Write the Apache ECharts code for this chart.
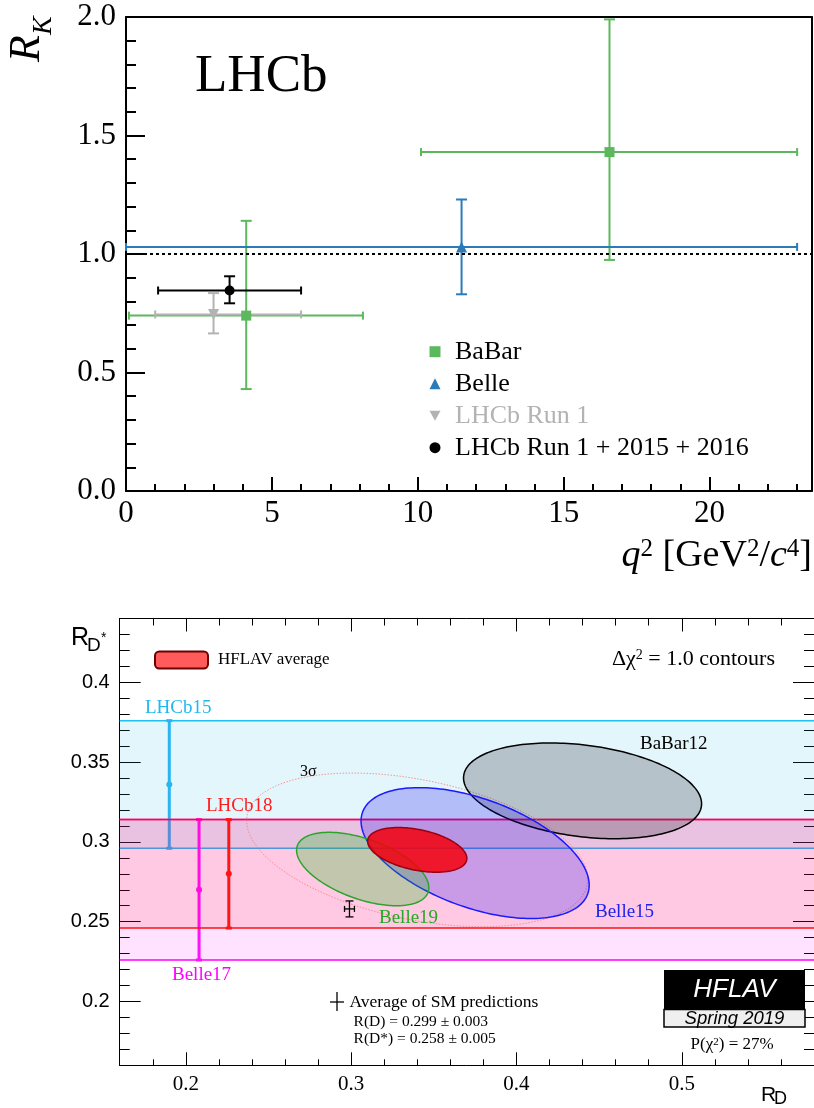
<!DOCTYPE html>
<html><head><meta charset="utf-8">
<script src="https://cdn.jsdelivr.net/npm/echarts@6/dist/echarts.min.js"></script>
<style>html,body{margin:0;padding:0;background:#fff}#c{width:814px;height:1108px}</style>
</head><body><div id="c"></div>
<script>
// ================= TOP PANEL DATA: R_K vs q^2 =================
// each point: [q2, RK, q2Low, q2High, RKLow, RKHigh]
const babarRK     = [[4.12, 0.74, 0.10, 8.12, 0.43, 1.14], [16.57, 1.43, 10.11, 23.0, 0.975, 1.99]];
const belleRK     = [[11.5, 1.03, 0.0, 23.0, 0.83, 1.23]];
const lhcbRun1RK  = [[3.0, 0.745, 1.0, 6.0, 0.665, 0.835]];
const lhcbRun12RK = [[3.55, 0.846, 1.1, 6.0, 0.792, 0.906]];
const rkNames = ['BaBar', 'Belle', 'LHCb Run 1', 'LHCb Run 1 + 2015 + 2016'];
const qMajorTicks = [0, 5, 10, 15, 20];
const rkSMValue = 1.0;

// ================= BOTTOM PANEL DATA: R(D) vs R(D*) =================
// R(D*)-only measurements (bands)
const bandNames   = ['LHCb15', 'Belle17', 'LHCb18'];
const bandXPos    = [0.190, 0.208, 0.226];
const bandCentral = [0.336, 0.270, 0.280];
const bandLow     = [0.296, 0.226, 0.246];
const bandHigh    = [0.376, 0.314, 0.314];
// 2D measurements (Delta chi2 = 1 contours): central values, total errors, correlation
const ellNames  = ['BaBar12', 'Belle15', 'Belle19', 'HFLAV average'];
const ellRD     = [0.440, 0.375, 0.307, 0.340];
const ellRDerr  = [0.072, 0.069, 0.040, 0.030];
const ellRDs    = [0.332, 0.293, 0.283, 0.295];
const ellRDserr = [0.030, 0.041, 0.023, 0.014];
const ellCorr   = [-0.27, -0.49, -0.51, -0.38];
const threeSigmaDeltaChi2 = 11.83;
// SM prediction [R(D), R(D*), errR(D), errR(D*)]
const smPoint = [0.299, 0.258, 0.003, 0.005];
const rdMajorTicks  = [0.2, 0.3, 0.4, 0.5];
const rdsMajorTicks = [0.2, 0.25, 0.3, 0.35, 0.4];

// ================= STYLE =================
const SERIF = 'Liberation Serif', SANS = 'Liberation Sans';
const rkColors = ['#5cb85c', '#2b7bba', '#b3b3b3', '#000000'];
const rkSymbols = ['rect', 'triangle', 'triangle', 'circle'];
const rkRot = [0, 0, 180, 0];
const rkSizes = [10, 11, 11, 10];
const rkLegendIcons = ['rect', 'triangle', 'path://M0,0L10,0L5,9Z', 'circle'];
const rkSets = [babarRK, belleRK, lhcbRun1RK, lhcbRun12RK];

function errRender(color) {
  return function (params, api) {
    const x = api.value(0), y = api.value(1);
    const c = api.coord([x, y]);
    const xl = api.coord([api.value(2), y])[0], xh = api.coord([api.value(3), y])[0];
    const yl = api.coord([x, api.value(4)])[1], yh = api.coord([x, api.value(5)])[1];
    const st = {stroke: color, lineWidth: 2};
    return {type: 'group', children: [
      {type: 'line', shape: {x1: xl, y1: c[1], x2: xh, y2: c[1]}, style: st},
      {type: 'line', shape: {x1: c[0], y1: yl, x2: c[0], y2: yh}, style: st},
      {type: 'line', shape: {x1: xl, y1: c[1] - 4, x2: xl, y2: c[1] + 4}, style: st},
      {type: 'line', shape: {x1: xh, y1: c[1] - 4, x2: xh, y2: c[1] + 4}, style: st},
      {type: 'line', shape: {x1: c[0] - 5.5, y1: yl, x2: c[0] + 5.5, y2: yl}, style: st},
      {type: 'line', shape: {x1: c[0] - 5.5, y1: yh, x2: c[0] + 5.5, y2: yh}, style: st}
    ]};
  };
}

const bandFill = {LHCb15: 'rgba(22,180,230,0.12)', Belle17: 'rgba(255,0,255,0.114)', LHCb18: 'rgba(255,0,0,0.11)'};
const bandLine = {LHCb15: '#20bff5', Belle17: '#ff00ff', LHCb18: '#ff1010'};
const bandBar  = {LHCb15: '#29b6f0', Belle17: '#ff10ff', LHCb18: '#ff1515'};

function bandRender(name) {
  return function (params, api) {
    const cs = params.coordSys;
    const xp = api.value(0);
    const px = api.coord([xp, api.value(1)])[0];
    const yc = api.coord([xp, api.value(1)])[1];
    const yb = api.coord([xp, api.value(2)])[1];
    const yt = api.coord([xp, api.value(3)])[1];
    const lc = bandLine[name], bc = bandBar[name];
    return {type: 'group', children: [
      {type: 'rect', shape: {x: cs.x, y: yt, width: cs.width, height: yb - yt}, style: {fill: bandFill[name]}},
      {type: 'line', shape: {x1: cs.x, y1: yt, x2: cs.x + cs.width, y2: yt}, style: {stroke: lc, lineWidth: 1.5}},
      {type: 'line', shape: {x1: cs.x, y1: yb, x2: cs.x + cs.width, y2: yb}, style: {stroke: lc, lineWidth: 1.5}},
      {type: 'line', shape: {x1: px, y1: yt, x2: px, y2: yb}, style: {stroke: bc, lineWidth: 3}},
      {type: 'line', shape: {x1: px - 3, y1: yt, x2: px + 3, y2: yt}, style: {stroke: bc, lineWidth: 3}},
      {type: 'line', shape: {x1: px - 3, y1: yb, x2: px + 3, y2: yb}, style: {stroke: bc, lineWidth: 3}},
      {type: 'circle', shape: {cx: px, cy: yc, r: 3}, style: {fill: bc}}
    ]};
  };
}

function ellipseRender(fill, stroke, lw, dash) {
  return function (params, api) {
    const mx = api.value(0), my = api.value(1), sx = api.value(2), sy = api.value(3), rho = api.value(4), k = api.value(5);
    const pts = [];
    const N = 200;
    for (let i = 0; i < N; i++) {
      const t = 2 * Math.PI * i / N;
      pts.push(api.coord([mx + k * sx * Math.cos(t), my + k * sy * (rho * Math.cos(t) + Math.sqrt(1 - rho * rho) * Math.sin(t))]));
    }
    const style = {fill: fill, stroke: stroke, lineWidth: lw};
    if (dash) style.lineDash = dash;
    return {type: 'polygon', shape: {points: pts}, style: style};
  };
}

const ellStyle = {
  'BaBar12':       ['rgba(50,48,58,0.26)', '#000000', 1.5],
  'Belle15':       ['rgba(23,0,239,0.23)', '#1a1aff', 1.5],
  'Belle19':       ['rgba(26,194,28,0.27)', '#2aa52a', 1.5],
  'HFLAV average': ['rgba(245,0,12,0.85)', '#9a0010', 1.5]
};

const series = [];
// top panel error bars + markers
rkSets.forEach((set, i) => {
  series.push({type: 'custom', name: rkNames[i] + ' errors', xAxisIndex: 0, yAxisIndex: 0, z: 2,
    renderItem: errRender(rkColors[i]), data: set, silent: true});
});
rkSets.forEach((set, i) => {
  const s = {type: 'scatter', name: rkNames[i], xAxisIndex: 0, yAxisIndex: 0, z: 3,
    symbol: rkSymbols[i], symbolRotate: rkRot[i], symbolSize: rkSizes[i],
    itemStyle: {color: rkColors[i], opacity: 1}, data: set.map(d => [d[0], d[1]]), silent: true};
  if (i === 0) {
    s.markLine = {silent: true, symbol: 'none', label: {show: false},
      lineStyle: {type: [3, 3], color: '#000', width: 2}, data: [{yAxis: rkSMValue}]};
  }
  series.push(s);
});
// bottom panel bands
bandNames.forEach((n, i) => {
  series.push({type: 'custom', name: n, xAxisIndex: 3, yAxisIndex: 2, z: 2 + i, silent: true,
    renderItem: bandRender(n), data: [[bandXPos[i], bandCentral[i], bandLow[i], bandHigh[i]]]});
});
// 3 sigma contour of average
const avgIdx = ellNames.indexOf('HFLAV average');
series.push({type: 'custom', name: '3sigma', xAxisIndex: 3, yAxisIndex: 2, z: 6, silent: true,
  renderItem: ellipseRender('rgba(0,0,0,0)', 'rgba(240,120,120,0.75)', 1, [1.5, 1.5]),
  data: [[ellRD[avgIdx], ellRDs[avgIdx], ellRDerr[avgIdx], ellRDserr[avgIdx], ellCorr[avgIdx], Math.sqrt(threeSigmaDeltaChi2)]]});
ellNames.forEach((n, i) => {
  const st = ellStyle[n];
  series.push({type: 'custom', name: n, xAxisIndex: 3, yAxisIndex: 2, z: 7 + i, silent: true, clip: true,
    itemStyle: {color: st[0]},
    renderItem: ellipseRender(st[0], st[1], st[2]),
    data: [[ellRD[i], ellRDs[i], ellRDerr[i], ellRDserr[i], ellCorr[i], 1]]});
});
// SM prediction cross
series.push({type: 'custom', name: 'SM', xAxisIndex: 3, yAxisIndex: 2, z: 12, silent: true,
  renderItem: function (params, api) {
    const x = api.value(0), y = api.value(1), ex = api.value(2), ey = api.value(3);
    const c = api.coord([x, y]);
    const xl = api.coord([x - ex, y])[0], xh = api.coord([x + ex, y])[0];
    const yl = api.coord([x, y - ey])[1], yh = api.coord([x, y + ey])[1];
    const st = {stroke: '#000', lineWidth: 1.3};
    return {type: 'group', children: [
      {type: 'line', shape: {x1: xl, y1: c[1], x2: xh, y2: c[1]}, style: st},
      {type: 'line', shape: {x1: c[0], y1: yl, x2: c[0], y2: yh}, style: st},
      {type: 'line', shape: {x1: xl, y1: c[1] - 3, x2: xl, y2: c[1] + 3}, style: st},
      {type: 'line', shape: {x1: xh, y1: c[1] - 3, x2: xh, y2: c[1] + 3}, style: st},
      {type: 'line', shape: {x1: c[0] - 4, y1: yl, x2: c[0] + 4, y2: yl}, style: st},
      {type: 'line', shape: {x1: c[0] - 4, y1: yh, x2: c[0] + 4, y2: yh}, style: st}
    ]};
  },
  data: [smPoint]});

const xAxis = [
  {gridIndex: 0, type: 'value', min: 0, max: 23.5, interval: 1, position: 'bottom',
    axisLine: {onZero: false, lineStyle: {color: '#000', width: 2}},
    axisTick: {inside: true, length: 7, lineStyle: {color: '#000', width: 2}},
    axisLabel: {customValues: qMajorTicks, fontFamily: SERIF, fontSize: 31, color: '#000', margin: 7},
    splitLine: {show: false}},
  {gridIndex: 0, type: 'value', min: 0, max: 23.5, position: 'bottom',
    axisLine: {show: false, onZero: false},
    axisTick: {inside: true, length: 14, customValues: qMajorTicks, lineStyle: {color: '#000', width: 2}},
    axisLabel: {show: false}, splitLine: {show: false}},
  {gridIndex: 0, type: 'value', min: 0, max: 23.5, position: 'top',
    axisLine: {onZero: false, lineStyle: {color: '#000', width: 2}},
    axisTick: {show: false}, axisLabel: {show: false}, splitLine: {show: false}},
  {gridIndex: 1, type: 'value', min: 0.16, max: 0.58, interval: 0.02, position: 'bottom',
    axisLine: {onZero: false, lineStyle: {color: '#000', width: 1}},
    axisTick: {inside: true, length: 6, lineStyle: {color: '#000', width: 1}},
    axisLabel: {customValues: rdMajorTicks, formatter: v => v.toFixed(1), fontFamily: SERIF, fontSize: 21, color: '#000', margin: 9},
    splitLine: {show: false}},
  {gridIndex: 1, type: 'value', min: 0.16, max: 0.58, position: 'bottom',
    axisLine: {show: false, onZero: false},
    axisTick: {inside: true, length: 13, customValues: rdMajorTicks, lineStyle: {color: '#000', width: 1}},
    axisLabel: {show: false}, splitLine: {show: false}},
  {gridIndex: 1, type: 'value', min: 0.16, max: 0.58, interval: 0.02, position: 'top',
    axisLine: {onZero: false, lineStyle: {color: '#000', width: 1}},
    axisTick: {inside: true, length: 7, lineStyle: {color: '#000', width: 1}},
    axisLabel: {show: false}, splitLine: {show: false}},
  {gridIndex: 1, type: 'value', min: 0.16, max: 0.58, position: 'top',
    axisLine: {show: false, onZero: false},
    axisTick: {inside: true, length: 13, customValues: rdMajorTicks, lineStyle: {color: '#000', width: 1}},
    axisLabel: {show: false}, splitLine: {show: false}}
];
const yAxis = [
  {gridIndex: 0, type: 'value', min: 0, max: 2, interval: 0.5, position: 'left',
    axisLine: {onZero: false, lineStyle: {color: '#000', width: 2}},
    axisTick: {inside: true, length: 19, lineStyle: {color: '#000', width: 2}},
    minorTick: {show: true, splitNumber: 5, length: 10, lineStyle: {color: '#000', width: 2}},
    axisLabel: {formatter: v => v.toFixed(1), fontFamily: SERIF, fontSize: 31, color: '#000', margin: 10},
    splitLine: {show: false}, minorSplitLine: {show: false}},
  {gridIndex: 0, type: 'value', min: 0, max: 2, position: 'right',
    axisLine: {show: true, onZero: false, lineStyle: {color: '#000', width: 2}},
    axisTick: {show: false}, axisLabel: {show: false}, splitLine: {show: false}},
  {gridIndex: 1, type: 'value', min: 0.16, max: 0.44, interval: 0.01, position: 'left',
    axisLine: {onZero: false, lineStyle: {color: '#000', width: 1}},
    axisTick: {inside: true, length: 10, lineStyle: {color: '#000', width: 1}},
    axisLabel: {customValues: rdsMajorTicks, formatter: v => String(parseFloat(v.toFixed(2))), fontFamily: SANS, fontSize: 20, color: '#000', margin: 10},
    splitLine: {show: false}},
  {gridIndex: 1, type: 'value', min: 0.16, max: 0.44, position: 'left',
    axisLine: {show: false, onZero: false},
    axisTick: {inside: true, length: 21, customValues: rdsMajorTicks, lineStyle: {color: '#000', width: 1}},
    axisLabel: {show: false}, splitLine: {show: false}},
  {gridIndex: 1, type: 'value', min: 0.16, max: 0.44, interval: 0.01, position: 'right',
    axisLine: {show: true, onZero: false, lineStyle: {color: '#000', width: 1}},
    axisTick: {inside: true, length: 10, lineStyle: {color: '#000', width: 1}},
    axisLabel: {show: false}, splitLine: {show: false}},
  {gridIndex: 1, type: 'value', min: 0.16, max: 0.44, position: 'right',
    axisLine: {show: false, onZero: false},
    axisTick: {inside: true, length: 21, customValues: rdsMajorTicks, lineStyle: {color: '#000', width: 1}},
    axisLabel: {show: false}, splitLine: {show: false}}
];

function txt(x, y, text, size, opts) {
  opts = opts || {};
  return {type: 'text', x: x, y: y, rotation: opts.rot || 0, z: 100,
    style: {text: text, fontFamily: opts.font || SERIF, fontSize: size, fontStyle: opts.italic ? 'italic' : 'normal',
      fill: opts.color || '#000', align: opts.align || 'left', verticalAlign: 'middle', rich: opts.rich}};
}

const graphic = [
  txt(195, 77, 'LHCb', 53),
  txt(27, 62, 'R', 44, {italic: true, rot: Math.PI / 2}),
  txt(44, 35, 'K', 28, {italic: true, rot: Math.PI / 2}),
  txt(812, 556, '{i|q}{s|2}{m| [GeV}{s|2}{m|/}{i|c}{s|4}{m|]}', 38, {align: 'right', rich: {
    i: {fontFamily: SERIF, fontSize: 38, fontStyle: 'italic', lineHeight: 38, fill: '#000'},
    m: {fontFamily: SERIF, fontSize: 38, lineHeight: 38, fill: '#000'},
    s: {fontFamily: SERIF, fontSize: 25, lineHeight: 25, verticalAlign: 'top', fill: '#000'}}}),
  // bottom panel axis titles
  txt(71, 638, 'R', 25, {font: SANS}),
  txt(87, 646, 'D', 19, {font: SANS}),
  txt(101, 638, '*', 14, {font: SANS}),
  txt(761, 1095, 'R', 21, {font: SANS}),
  txt(774, 1099, 'D', 18, {font: SANS}),
  // annotations
  txt(775, 659, '{m|Δχ}{s|2}{m| = 1.0 contours}', 22, {align: 'right', rich: {
    m: {fontFamily: SERIF, fontSize: 22, lineHeight: 22, fill: '#000'},
    s: {fontFamily: SERIF, fontSize: 14, lineHeight: 14, verticalAlign: 'top', fill: '#000'}}}),
  txt(300, 772, '3σ', 16),
  txt(640, 744, 'BaBar12', 19),
  txt(145, 708, 'LHCb15', 19, {color: '#1fb9f0'}),
  txt(206, 806, 'LHCb18', 19, {color: '#ff1e1e'}),
  txt(172, 975, 'Belle17', 19, {color: '#ff00ff'}),
  txt(379, 918, 'Belle19', 19, {color: '#22aa22'}),
  txt(595, 912, 'Belle15', 19, {color: '#2020ee'}),
  {type: 'line', z: 100, shape: {x1: 330, y1: 1002, x2: 344, y2: 1002}, style: {stroke: '#000', lineWidth: 1.3}},
  {type: 'line', z: 100, shape: {x1: 337, y1: 992, x2: 337, y2: 1011}, style: {stroke: '#000', lineWidth: 1.3}},
  txt(349.5, 1002.5, 'Average of SM predictions', 17.5),
  txt(353.6, 1021.7, 'R(D) = 0.299 ± 0.003', 15.5),
  txt(353.6, 1039, 'R(D*) = 0.258 ± 0.005', 15.5),
  txt(690.6, 1045, '{m|P(χ}{s|2}{m|) = 27%}', 17, {rich: {
    m: {fontFamily: SERIF, fontSize: 17, lineHeight: 17, fill: '#000'},
    s: {fontFamily: SERIF, fontSize: 11, lineHeight: 11, verticalAlign: 'top', fill: '#000'}}}),
  {type: 'rect', z: 100, shape: {x: 664, y: 970, width: 141, height: 39}, style: {fill: '#000'}},
  txt(734.5, 990, 'HFLAV', 26, {font: SANS, italic: true, color: '#fff', align: 'center'}),
  {type: 'rect', z: 100, shape: {x: 664, y: 1009.5, width: 141, height: 17.5}, style: {fill: '#efefef', stroke: '#000', lineWidth: 1.5}},
  txt(734.5, 1018.5, 'Spring 2019', 18.5, {font: SANS, italic: true, align: 'center'})
];

const option = {
  animation: false,
  backgroundColor: '#fff',
  grid: [
    {left: 126, right: 2.3, top: 17, bottom: 617},
    {left: 119.7, right: -7.1, top: 618.5, bottom: 42.7}
  ],
  xAxis: xAxis,
  yAxis: yAxis,
  legend: [
    {orient: 'vertical', left: 429.5, top: 338.7, padding: 0, itemGap: 6, itemWidth: 11, itemHeight: 11,
      selectedMode: false,
      textStyle: {fontFamily: SERIF, fontSize: 26, lineHeight: 26, color: '#000', padding: [0, 0, 0, 9.5]},
      data: rkNames.map((n, i) => ({name: n, icon: rkLegendIcons[i], textStyle: {color: i === 2 ? '#b3b3b3' : '#000'}}))},
    {left: 154, top: 650.5, padding: 0, itemWidth: 53, itemHeight: 17, selectedMode: false,
      textStyle: {fontFamily: SERIF, fontSize: 17, lineHeight: 17, color: '#000', padding: [0, 0, 0, 5]},
      data: [{name: 'HFLAV average', icon: 'roundRect', itemStyle: {color: '#ff5b5b', borderColor: '#6b0000', borderWidth: 2}}]}
  ],
  series: series,
  graphic: graphic
};

const chart = echarts.init(document.getElementById('c'));
chart.setOption(option);
</script>
</body></html>
